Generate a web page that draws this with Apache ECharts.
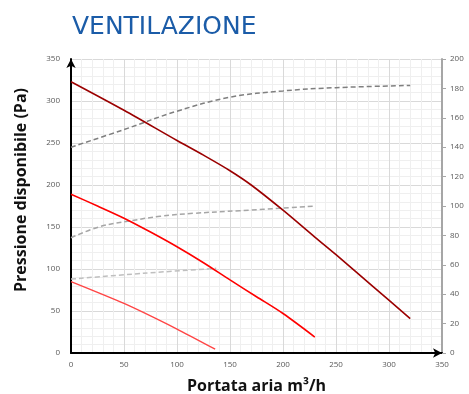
<!DOCTYPE html>
<html>
<head>
<meta charset="utf-8">
<script src="https://cdn.jsdelivr.net/npm/echarts@6/dist/echarts.min.js"></script>
<style>
  html, body { margin: 0; padding: 0; background: #fff; }
  #chart { width: 469px; height: 394px; }
</style>
</head>
<body>
<div id="chart"></div>
<script>
// Airflow (m3/h) vs available pressure (Pa), with power curves on the right axis
const flowHigh = [0, 50, 100, 125, 150, 170, 200, 230, 250, 285, 320];
const pressHigh = [323, 289, 253, 235.5, 217, 200, 170, 138, 117, 79, 41];

const flowMid = [0, 25, 50, 75, 100, 125, 150, 175, 200, 230];
const pressMid = [189, 175, 160.5, 144, 126.5, 107.5, 87, 67, 47, 19];

const flowLow = [0, 50, 100, 136];
const pressLow = [85, 59, 28.5, 4.5];

const powerFlowHigh = [0, 50, 100, 150, 200, 250, 320];
const powerHigh = [140, 152, 164.5, 174, 178.3, 180.5, 182];

const powerFlowMid = [0, 27, 57, 84, 115, 159, 230];
const powerMid = [78.4, 85.9, 90, 93, 95, 96.8, 100];

const powerFlowLow = [0, 68, 137];
const powerLow = [50.3, 54.2, 57.6];

const pair = (xs, ys) => xs.map((x, i) => [x, ys[i]]);

const chart = echarts.init(document.getElementById('chart'), null, { renderer: 'canvas' });

const labelStyle = { color: '#595959', fontSize: 8, fontFamily: 'Open Sans' };

function curve(data, color, width, yIndex, dashed, smooth) {
  return {
    type: 'line',
    data: data,
    yAxisIndex: yIndex,
    showSymbol: false,
    smooth: smooth,
    silent: true,
    lineStyle: { color: color, width: width, type: dashed ? [5, 3] : 'solid' },
    z: dashed ? 3 : 4
  };
}

chart.setOption({
  animation: false,
  title: {
    text: 'VENTILAZIONE',
    left: 67,
    top: 10,
    textStyle: { color: '#1B5CA8', fontSize: 25, fontWeight: 'normal', fontFamily: 'DejaVu Sans' }
  },
  graphic: [{
    type: 'text',
    left: 13,
    top: 88,
    rotation: Math.PI / 2,
    style: {
      text: 'Pressione disponibile (Pa)',
      fill: '#111',
      font: 'bold 16px "Open Sans"'
    }
  }],
  grid: { left: 71, right: 27, top: 59, bottom: 41, containLabel: false, outerBoundsMode: 'none' },
  xAxis: {
    type: 'value',
    min: 0, max: 350, interval: 50,
    name: 'Portata aria m³/h',
    nameLocation: 'middle',
    nameGap: 25,
    nameTextStyle: { color: '#111', fontSize: 16, fontWeight: 'bold', fontFamily: 'Open Sans' },
    axisLine: { lineStyle: { color: '#000', width: 2 }, symbol: ['none', 'arrow'], symbolSize: [7, 9] },
    axisTick: { show: false },
    axisLabel: Object.assign({ margin: 8 }, labelStyle),
    splitLine: { show: true, lineStyle: { color: '#d9d9d9', width: 1 } },
    minorTick: { show: false, splitNumber: 5 },
    minorSplitLine: { show: true, lineStyle: { color: '#efefef', width: 1 } }
  },
  yAxis: [
    {
      type: 'value',
      min: 0, max: 350, interval: 50,
      axisLine: { show: true, lineStyle: { color: '#000', width: 2 }, symbol: ['none', 'arrow'], symbolSize: [7, 9] },
      axisTick: { show: false },
      axisLabel: Object.assign({ margin: 11 }, labelStyle),
      splitLine: { show: true, lineStyle: { color: '#d9d9d9', width: 1 } },
      minorTick: { show: false, splitNumber: 5 },
      minorSplitLine: { show: true, lineStyle: { color: '#efefef', width: 1 } }
    },
    {
      type: 'value',
      position: 'right',
      min: 0, max: 200, interval: 20,
      axisLine: { show: true, lineStyle: { color: '#a6a6a6', width: 2 } },
      axisTick: { show: true, length: 4, lineStyle: { color: '#a6a6a6' } },
      axisLabel: Object.assign({ margin: 8 }, labelStyle),
      splitLine: { show: false }
    }
  ],
  series: [
    curve(pair(powerFlowHigh, powerHigh), '#7f7f7f', 1.5, 1, true, 0.4),
    curve(pair(powerFlowMid, powerMid), '#a6a6a6', 1.5, 1, true, 0.4),
    curve(pair(powerFlowLow, powerLow), '#bfbfbf', 1.5, 1, true, 0.3),
    curve(pair(flowHigh, pressHigh), '#9b0000', 1.6, 0, false, 0.3),
    curve(pair(flowMid, pressMid), '#ff0000', 1.6, 0, false, 0.3),
    curve(pair(flowLow, pressLow), '#ff4545', 1.4, 0, false, 0.2)
  ]
});
</script>
</body>
</html>
